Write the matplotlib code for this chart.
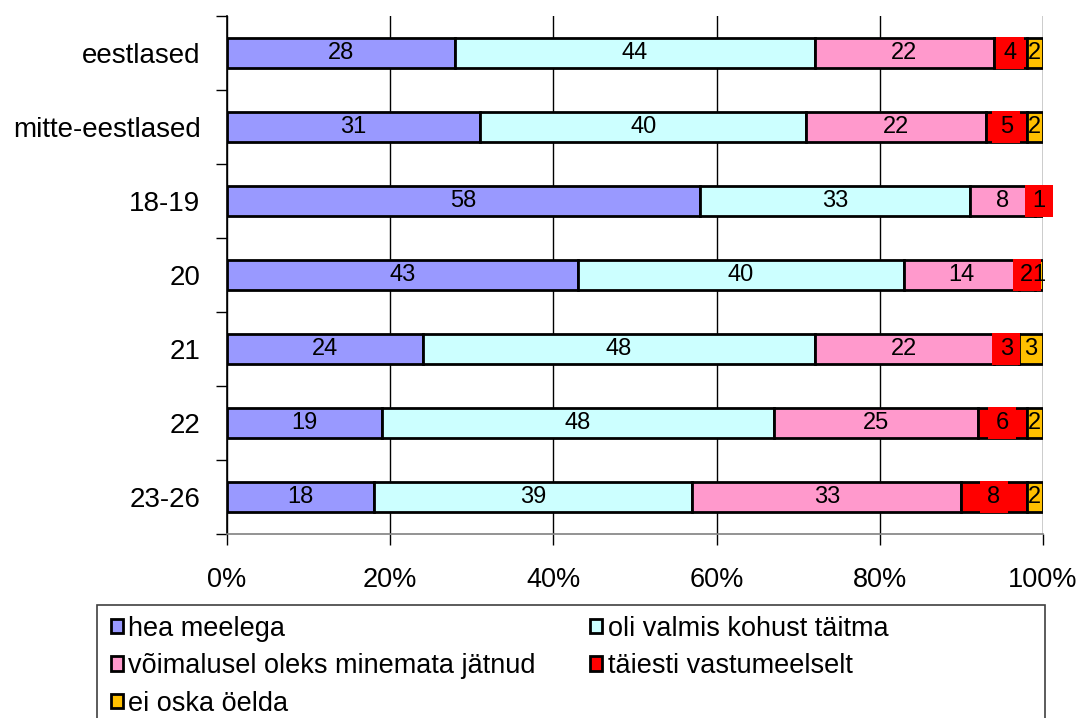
import numpy as np
import matplotlib
matplotlib.use("Agg")
import matplotlib.pyplot as plt
from matplotlib.patches import Rectangle

# data (percent of respondents)
categories = ["eestlased", "mitte-eestlased", "18-19", "20", "21", "22", "23-26"]
series_names = ["hea meelega", "oli valmis kohust täitma",
                "võimalusel oleks minemata jätnud", "täiesti vastumeelselt",
                "ei oska öelda"]
hea_meelega = [28, 31, 58, 43, 24, 19, 18]
oli_valmis = [44, 40, 33, 40, 48, 48, 39]
voimalusel = [22, 22, 8, 14, 22, 25, 33]
vastumeelselt = [4, 5, 1, 2, 3, 6, 8]
ei_oska = [2, 2, 0, 1, 3, 2, 2]
x_ticks = [0, 20, 40, 60, 80, 100]
x_ticklabels = ["0%", "20%", "40%", "60%", "80%", "100%"]

colors = ["#9999FF", "#CCFFFF", "#FF99CC", "#FF0000", "#FFC000"]

plt.rcParams["font.family"] = ["Liberation Sans", "DejaVu Sans"]

fig = plt.figure(figsize=(10.78, 7.18), dpi=100)
ax = fig.add_axes([227 / 1078, (718 - 534) / 718, 816 / 1078, 518 / 718])

series = [hea_meelega, oli_valmis, voimalusel, vastumeelselt, ei_oska]
y = np.arange(len(categories))
left = np.zeros(len(categories))
handles = []
for vals, name, col in zip(series, series_names, colors):
    vals = np.array(vals, dtype=float)
    bars = ax.barh(y, vals, left=left, height=0.41, color=col,
                   edgecolor="black", linewidth=2, label=name, zorder=2)
    handles.append(bars)
    for yi, v, l in zip(y, vals, left):
        if v <= 0:
            continue
        cx = l + v / 2
        if col == "#FF0000":
            # red background behind the red series labels
            ax.add_patch(Rectangle((cx - 1.72, yi - 0.22), 3.44, 0.44,
                                   facecolor=col, edgecolor="none", zorder=3,
                                   clip_on=False))
        ax.text(cx, yi, "%d" % v, ha="center", va="center",
                fontsize=17, zorder=4)
    left = left + vals

ax.set_xlim(0, 100)
ax.set_ylim(len(categories) - 0.5, -0.5)
ax.set_xticks(x_ticks)
ax.set_xticklabels(x_ticklabels, fontsize=19.5)
ax.set_yticks(y)
ax.set_yticklabels(categories, fontsize=20)
ax.set_yticks(np.arange(len(categories) + 1) - 0.5, minor=True)
ax.tick_params(axis="y", which="major", length=0, pad=19)
ax.tick_params(axis="y", which="minor", length=8, width=1, color="black")
ax.tick_params(axis="x", length=8, width=1, pad=16, color="black")

ax.grid(axis="x", color="black", linewidth=1)
ax.set_axisbelow(True)
for s in ["top", "right"]:
    ax.spines[s].set_visible(False)
ax.spines["left"].set_linewidth(1.2)
ax.spines["bottom"].set_color("#808080")
ax.spines["bottom"].set_linewidth(1.2)

# legend, row-major ordering
order = [0, 2, 4, 1, 3]
fig.legend([handles[i] for i in order], [series_names[i] for i in order],
           loc="upper left", bbox_to_anchor=(100 / 1078, 1 - 605 / 718),
           ncol=2, frameon=False, fontsize=19.5, handlelength=0.45,
           handleheight=0.45, handletextpad=0.2, columnspacing=2.0,
           labelspacing=0.42, borderaxespad=0)
fig.patches.append(Rectangle((97 / 1078, -0.1), (1045 - 97) / 1078,
                             (718 - 605) / 718 + 0.1, transform=fig.transFigure,
                             fill=False, edgecolor="#404040", linewidth=1.2))

fig.savefig("out.png", dpi=100)
